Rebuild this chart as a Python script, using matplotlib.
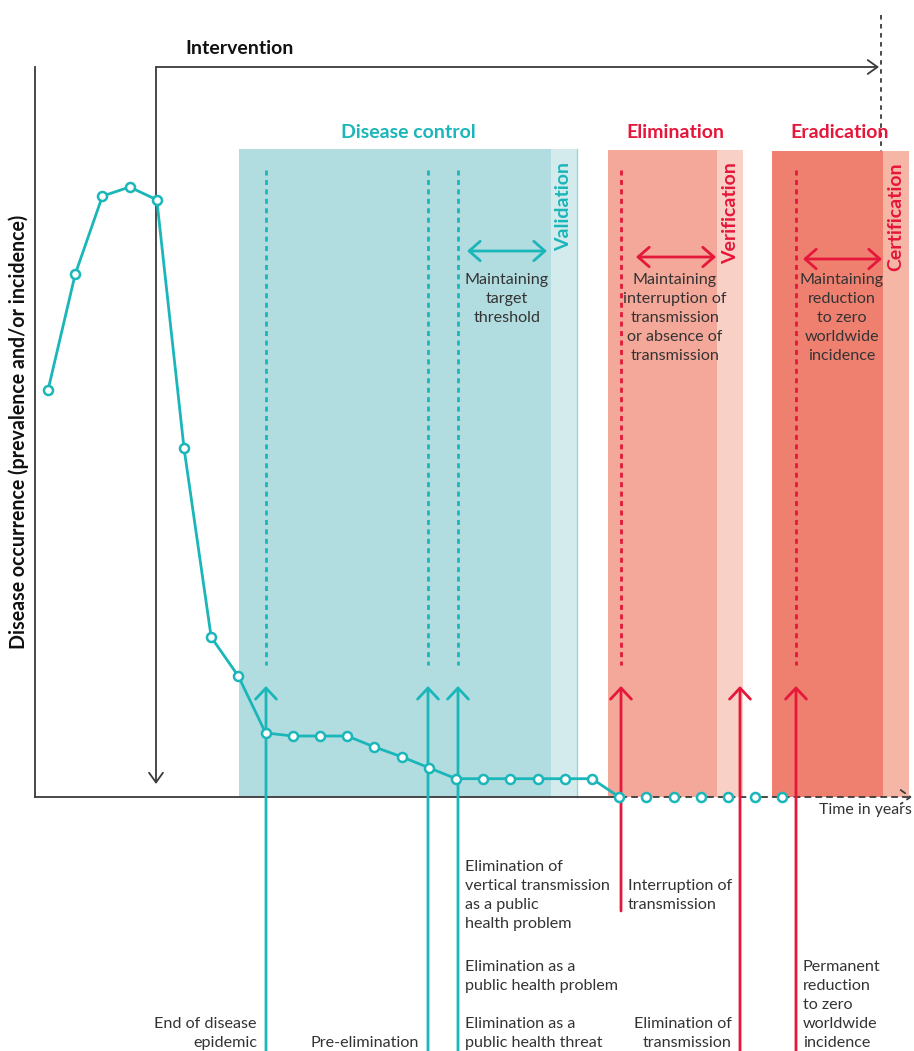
import matplotlib
matplotlib.use("Agg")
import matplotlib.pyplot as plt
from matplotlib.patches import Rectangle

plt.rcParams['font.family'] = ['Lato', 'DejaVu Sans']

# ---------------- data ----------------
time_years = list(range(28))
occurrence = [66.7, 85.7, 98.5, 100.0, 97.9, 57.2, 26.2, 19.8, 10.5, 10.0,
              10.0, 10.0, 8.2, 6.6, 4.8, 3.0, 3.0, 3.0, 3.0, 3.0, 3.0, 0.0,
              0.0, 0.0, 0.0, 0.0, 0.0, 0.0]
solid_until = 21  # index of last point joined by the solid line

phase_titles = ["Disease control", "Elimination", "Eradication"]
phase_checks = ["Validation", "Verification", "Certification"]
phase_maint = ["Maintaining\ntarget\nthreshold",
               "Maintaining\ninterruption of\ntransmission\nor absence of\ntransmission",
               "Maintaining\nreduction\nto zero\nworldwide\nincidence"]
y_label = "Disease occurrence (prevalence and/or incidence)"
x_label = "Time in years"

TEAL = "#1ab6b9"
RED = "#e5173b"
DARK = "#3a3a3a"
TXT = "#333333"

W, H = 914, 1051
fig = plt.figure(figsize=(W / 100, H / 100), dpi=100)
ax = fig.add_axes([0, 0, 1, 1])
# data coords: x = time index, y = occurrence (0-100)
px0, pxs = 48.0, 27.2
py0, pys = 797.0, 6.1
ax.set_xlim((0 - px0) / pxs, (W - px0) / pxs)
ax.set_ylim((py0 - H) / pys, (py0 - 0) / pys)
ax.axis("off")


def P(px, py):
    return ((px - px0) / pxs, (py0 - py) / pys)


def line(p1, p2, **kw):
    a, b = P(*p1), P(*p2)
    ax.plot([a[0], b[0]], [a[1], b[1]], **kw)


def arrow(p_from, p_to, color, lw=2.0, style="->", hl=0.8, hw=0.7, ms=10, z=3, ls="-"):
    ax.annotate("", xy=P(*p_to), xytext=P(*p_from),
                arrowprops=dict(arrowstyle=f"{style},head_length={hl},head_width={hw}",
                                color=color, lw=lw, shrinkA=0, shrinkB=0,
                                mutation_scale=ms, linestyle=ls),
                zorder=z)


def text(px, py, s, **kw):
    x, y = P(px, py)
    ax.text(x, y, s, **kw)


# ---------------- phase boxes ----------------
boxes = [
    ((239, 551, 577), 149, "#b2dde0", "#d3ebed", TEAL),
    ((608, 717, 743), 150, "#f4a899", "#f8d0c6", RED),
    ((772, 883, 909), 151, "#ef8070", "#f6b6a6", RED),
]
for (x0, x1, x2), top, c1, c2, tc in boxes:
    a = P(x0, 797); b = P(x1, top); c = P(x2, top)
    ax.add_patch(Rectangle(a, b[0] - a[0], b[1] - a[1], color=c1, lw=0, zorder=1))
    ax.add_patch(Rectangle((b[0], a[1]), c[0] - b[0], b[1] - a[1], color=c2, lw=0, zorder=1))

line((577, 149), (577, 797), color="#9fd3d6", lw=1.0, zorder=1.5)

# titles
title_pos = [(408, 132), (675, 132), (840, 132)]
for (tx, ty), s, c in zip(title_pos, phase_titles, [TEAL, RED, RED]):
    text(tx, ty, s, color=c, fontsize=14, fontweight="bold", ha="center", va="center", zorder=6)

# rotated check labels
check_pos = [(564, 162), (731, 162), (896, 162)]
for (tx, ty), s, c in zip(check_pos, phase_checks, [TEAL, RED, RED]):
    text(tx, ty, s, color=c, fontsize=14, fontweight="bold", rotation=90,
         ha="center", va="top", zorder=6)

# dashed lines within boxes
for xx, c in [(266, TEAL), (428, TEAL), (458, TEAL), (621, RED), (796, RED)]:
    line((xx, 170), (xx, 665), color=c, lw=2.0, ls=(0, (1.8, 1.6)), zorder=2)

# double arrows
arrow((467, 251), (547, 251), TEAL, style="<->", lw=2.0)
arrow((636, 257), (716, 257), RED, style="<->", lw=2.0)
arrow((803, 259), (882, 259), RED, style="<->", lw=2.0)

# maintaining texts
LS = 1.45
for (tx, ty), s in zip([(507, 299), (675, 318), (842, 318)], phase_maint):
    text(tx, ty, s, color=TXT, fontsize=11.6, ha="center", va="center", linespacing=LS, zorder=6)

# ---------------- axes ----------------
line((35, 67), (35, 797), color=DARK, lw=1.3, zorder=2)
line((35, 797), (621, 797), color=DARK, lw=1.3, zorder=2)
arrow((621, 797), (912, 797), DARK, lw=1.3, style="->", hl=0.7, hw=0.5, ms=10, ls=(0, (3, 3)), z=2)
text(912, 810, x_label, color=TXT, fontsize=11.4, ha="right", va="center", zorder=6)
text(19, 432, y_label, color="#111111", fontsize=14.1, fontweight="bold", rotation=90,
     ha="center", va="center", zorder=6)

# intervention
arrow((156, 67), (156, 784), DARK, lw=1.3, hl=0.7, hw=0.5, ms=10, z=2)
arrow((156, 67), (879, 67), DARK, lw=1.3, hl=0.7, hw=0.5, ms=10, z=2)
text(185, 49, "Intervention", color="#111111", fontsize=14, fontweight="bold",
     ha="left", va="center", zorder=6)
line((881, 15), (881, 152), color=DARK, lw=1.3, ls=(0, (2.5, 2.5)), zorder=0.5)

# ---------------- upward milestone arrows ----------------
for xx, ybot, c in [(266, 1051, TEAL), (428, 1051, TEAL), (458, 1051, TEAL),
                    (621, 911, RED), (740, 1051, RED), (796, 1051, RED)]:
    arrow((xx, ybot), (xx, 686), c, lw=2.0, hl=0.8, hw=0.75, ms=10, z=3)

# ---------------- curve ----------------
ax.plot(time_years[:solid_until + 1], occurrence[:solid_until + 1], color=TEAL, lw=2.0,
        zorder=4, solid_joinstyle="round")
ax.plot(time_years, occurrence, ls="none", marker="o", ms=6.5, mfc="white",
        mec=TEAL, mew=1.8, zorder=5)

# ---------------- bottom texts ----------------
bt = dict(color=TXT, fontsize=11.6, linespacing=LS, zorder=6, va="center")
text(257, 1033.5, "End of disease\nepidemic", ha="right", **bt)
text(419, 1043, "Pre-elimination", ha="right", **bt)
text(465, 895.5, "Elimination of\nvertical transmission\nas a public\nhealth problem", ha="left", **bt)
text(465, 976.5, "Elimination as a\npublic health problem", ha="left", **bt)
text(465, 1033.5, "Elimination as a\npublic health threat", ha="left", **bt)
text(628, 895.5, "Interruption of\ntransmission", ha="left", **bt)
text(732, 1033.5, "Elimination of\ntransmission", ha="right", **bt)
text(803, 1005, "Permanent\nreduction\nto zero\nworldwide\nincidence", ha="left", **bt)

fig.savefig("out.png", dpi=100)
